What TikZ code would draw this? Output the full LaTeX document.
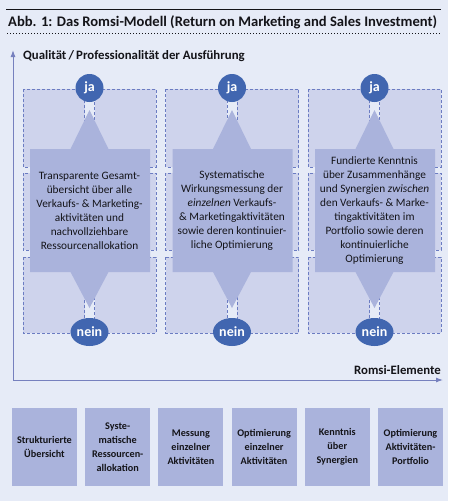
\documentclass[tikz,border=0pt]{standalone}
\usepackage{fontspec}
\setmainfont{Carlito}
\usepackage{xcolor}
\usepackage{tikz}
\usetikzlibrary{arrows.meta,positioning,calc,shapes.geometric}
\definecolor{bgblue}{RGB}{230,235,247}
\definecolor{rowblue}{RGB}{206,211,236}
\definecolor{callblue}{RGB}{170,179,220}
\definecolor{dotblue}{RGB}{65,102,176}
\definecolor{dashblue}{RGB}{107,124,194}
\definecolor{axisblue}{RGB}{118,128,190}
\definecolor{inkblack}{RGB}{20,20,25}
\tikzset{
  rowbox/.style={draw=dashblue, fill=rowblue, line width=0.8pt, dash pattern=on 3pt off 2pt},
  stripbox/.style={draw=dashblue, fill=bgblue, line width=0.8pt, dash pattern=on 3pt off 2pt},
  callout/.style={fill=callblue, draw=none},
  calltext/.style={align=center, text=inkblack, font=\fontsize{11.3}{14}\selectfont, inner sep=0pt},
  jadot/.style={circle, fill=dotblue, minimum size=28pt, inner sep=0pt, text=white, font=\fontsize{14}{14}\selectfont\bfseries},
  neindot/.style={ellipse, fill=dotblue, minimum width=38pt, minimum height=28pt, inner sep=0pt, text=white, font=\fontsize{14}{14}\selectfont\bfseries},
  elembox/.style={fill=callblue, minimum width=65pt, minimum height=78pt, inner sep=1pt, align=center, text=inkblack, font=\fontsize{10.2}{14}\selectfont\bfseries},
  axis/.style={draw=axisblue, line width=1pt, -{Latex[length=7pt,width=5pt]}},
  axislabel/.style={text=inkblack, font=\fontsize{12.8}{13}\selectfont\bfseries, inner sep=0pt}
}
\begin{document}
\begin{tikzpicture}[x=1pt,y=-1pt]
\fill[bgblue] (0,0) rectangle (448,501);
% title
\draw[line width=1pt, inkblack] (6,9) -- (441,9);
\node[anchor=west, inner sep=0pt, text=inkblack, font=\fontsize{14.6}{15}\selectfont\bfseries] (title) at (8,22) {Abb. 1: Das Romsi-Modell (Return on Marketing and Sales Investment)};
\draw[inkblack, line width=0.7pt, dash pattern=on 0.7pt off 2.3pt] (7,33.5) -- (441,33.5);

% axes
\coordinate (origin) at (13,380);
\coordinate (ytop) at (13,50);
\coordinate (xend) at (443,380);
\draw[axis] (origin) -- (ytop);
\draw[axis] (origin) -- (xend);
\node[axislabel, anchor=west] (ylab) at (23,56) {Qualität\,/\,Professionalität der Ausführung};
\node[axislabel, anchor=east] (xlab) at (441,370) {Romsi-Elemente};

% columns
\foreach \i/\txt in {0/{Transparente Gesamt-\\übersicht über alle\\Verkaufs- \& Marketing-\\aktivitäten und\\nachvollziehbare\\Ressourcenallokation},
                     1/{Systematische\\Wirkungsmessung der\\\textit{einzelnen} Verkaufs-\\\& Marketingaktivitäten\\sowie deren kontinuier-\\liche Optimierung},
                     2/{Fundierte Kenntnis\\über Zusammenhänge\\und Synergien \textit{zwischen}\\den Verkaufs- \& Marke-\\tingaktivitäten im\\Portfolio sowie deren\\kontinuierliche\\Optimierung}}{
  \pgfmathsetmacro{\xa}{23+142.5*\i}
  \pgfmathsetmacro{\cx}{\xa+66.5}
  \draw[rowbox] (\xa,89) rectangle ++(133,78);
  \draw[rowbox] (\xa,173) rectangle ++(133,77);
  \draw[rowbox] (\xa,257) rectangle ++(133,76);
  \draw[stripbox] (\cx-5,100) rectangle (\cx+5,320);
  \fill[callout] (\cx,110) -- (\cx+19,149) -- (\xa+127,149) -- (\xa+127,272)
    -- (\cx+19,272) -- (\cx,308) -- (\cx-19,272) -- (\xa+7,272) -- (\xa+7,149)
    -- (\cx-19,149) -- cycle;
  \node[calltext] (txt\i) at (\cx,210.5) {\txt};
  \node[jadot] (ja\i) at (\cx,88) {ja};
  \node[neindot] (nein\i) at (\cx,332) {nein};
}

% Romsi-Elemente
\foreach \k/\lab in {0/{Strukturierte\\Übersicht},1/{Syste-\\matische\\Ressourcen-\\allokation},2/{Messung\\einzelner\\Aktivitäten},
                     3/{Optimierung\\einzelner\\Aktivitäten},4/{Kenntnis\\über\\Synergien},5/{Optimierung\\Aktivitäten-\\Portfolio}}{
  \node[elembox] (elem\k) at (44.5+73.2*\k,447) {\lab};
}
\end{tikzpicture}
\end{document}
